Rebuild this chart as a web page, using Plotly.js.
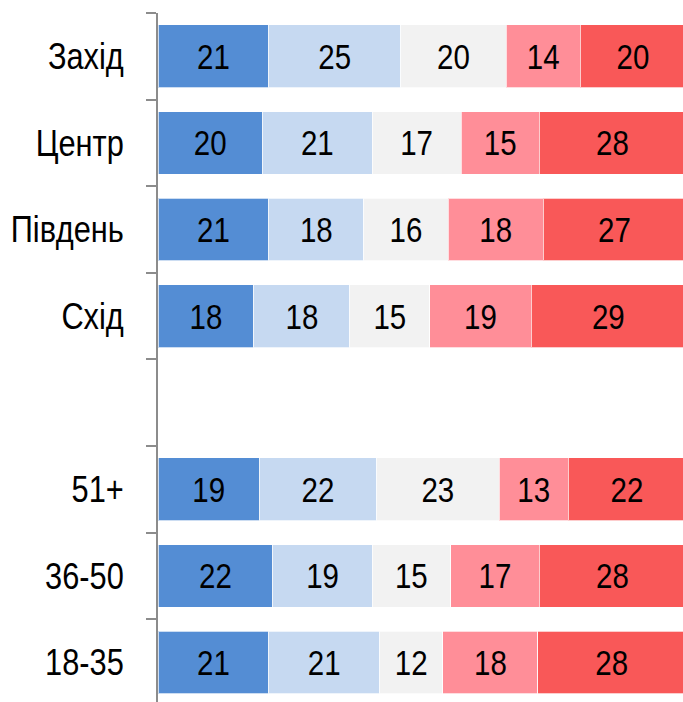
<!DOCTYPE html>
<html>
<head>
<meta charset="utf-8">
<script src="https://cdn.plot.ly/plotly-3.0.1.min.js"></script>
<style>html,body{margin:0;padding:0;background:#fff;}#chart{width:683px;height:702px;}</style>
</head>
<body>
<div id="chart"></div>
<script>
// Categories, top to bottom (" " is the empty spacer row)
var categories = ["Захід", "Центр", "Південь", "Схід", " ", "51+", "36-50", "18-35"];

// Series values (percent), one value per category (null for spacer)
var series1 = [21, 20, 21, 18, null, 19, 22, 21];
var series2 = [25, 21, 18, 18, null, 22, 19, 21];
var series3 = [20, 17, 16, 15, null, 23, 15, 12];
var series4 = [14, 15, 18, 19, null, 13, 17, 18];
var series5 = [20, 28, 27, 29, null, 22, 28, 28];

var seriesList = [series1, series2, series3, series4, series5];
var colors = ["#548DD4", "#C6D9F1", "#F2F2F2", "#FF8E98", "#F95858"];

var FONT = "'Liberation Sans Narrow', 'Arial Narrow', 'Liberation Sans', Arial, sans-serif";
var NARROW_BAR = 0.82;   // horizontal condensing to mimic a narrow face
var NARROW_TICK = 0.855;

var traces = seriesList.map(function (vals, i) {
  return {
    type: "bar",
    orientation: "h",
    y: categories,
    x: vals,
    text: vals.map(function (v) { return v === null ? "" : String(v); }),
    texttemplate: "%{text}",
    textposition: "inside",
    insidetextanchor: "middle",
    textangle: 0,
    constraintext: "none",
    textfont: { family: FONT, size: 36, color: "#000" },
    marker: { color: colors[i], line: { color: "rgba(255,255,255,0.7)", width: 1 } },
    hoverinfo: "skip",
    showlegend: false
  };
});

var layout = {
  width: 683,
  height: 702,
  margin: { l: 158, r: 0, t: 13, b: 0, pad: 0 },
  paper_bgcolor: "#fff",
  plot_bgcolor: "#fff",
  barmode: "stack",
  barnorm: "percent",
  bargap: 0.275,
  showlegend: false,
  xaxis: {
    visible: false,
    range: [0, 99.5],
    fixedrange: true
  },
  yaxis: {
    type: "category",
    categoryorder: "array",
    categoryarray: categories,
    range: [7.456, -0.5],
    showline: true,
    linecolor: "#8c8c8c",
    linewidth: 2,
    ticks: "outside",
    tickson: "boundaries",
    ticklen: 10,
    tickwidth: 2,
    tickcolor: "#8c8c8c",
    ticklabelstandoff: 25,
    showgrid: false,
    zeroline: false,
    tickfont: { family: FONT, size: 36, color: "#000" },
    fixedrange: true
  }
};

function condense(el, anchorX, s) {
  var t = el.getAttribute("transform") || "";
  el.setAttribute("transform", t + " translate(" + anchorX + ",0) scale(" + s + ",1) translate(" + (-anchorX) + ",0)");
}

Plotly.newPlot("chart", traces, layout, { displayModeBar: false, staticPlot: true }).then(function (gd) {
  gd.querySelectorAll(".ytick text").forEach(function (el) {
    var b = el.getBBox();
    condense(el, b.x + b.width, NARROW_TICK);
  });
  gd.querySelectorAll(".bartext").forEach(function (el) {
    var b = el.getBBox();
    condense(el, b.x + b.width / 2, NARROW_BAR);
  });
});
</script>
</body>
</html>
